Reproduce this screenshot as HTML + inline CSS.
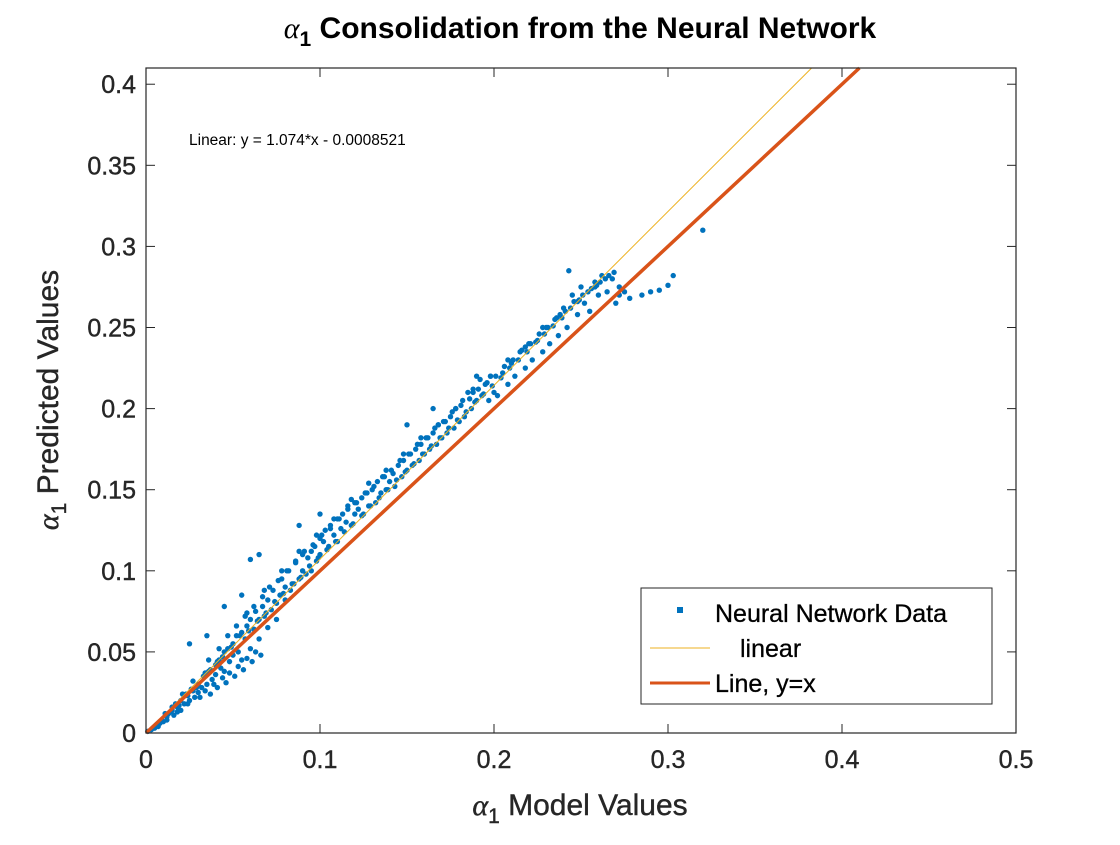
<!DOCTYPE html>
<html><head><meta charset="utf-8"><style>
body{margin:0;background:#fff;}
svg text{font-family:"Liberation Sans",Arial,sans-serif;}
</style></head><body>
<svg id="chart" width="1120" height="840" xmlns="http://www.w3.org/2000/svg">
<rect width="1120" height="840" fill="#fff"/>
<g id="marks"></g>
<rect x="146" y="68" width="870" height="665" fill="none" stroke="#262626" stroke-width="1.2"/>
<g id="axes"></g>
<text x="580" y="38" text-anchor="middle" font-size="30" font-weight="bold" fill="#000"><tspan font-family="Liberation Serif" font-style="italic" font-weight="normal">α</tspan><tspan font-size="21" dy="8">1</tspan><tspan dy="-8"> Consolidation from the Neural Network</tspan></text>
<text x="189" y="145" font-size="15.5" fill="#000">Linear:  y = 1.074*x - 0.0008521</text>
<text x="580" y="815" text-anchor="middle" font-size="30" fill="#262626" stroke="#262626" stroke-width="0.4"><tspan font-family="Liberation Serif" font-style="italic">α</tspan><tspan font-size="21" dy="8">1</tspan><tspan dy="-8"> Model Values</tspan></text>
<text transform="translate(58,400) rotate(-90)" text-anchor="middle" font-size="30" fill="#262626" stroke="#262626" stroke-width="0.4"><tspan font-family="Liberation Serif" font-style="italic">α</tspan><tspan font-size="21" dy="8">1</tspan><tspan dy="-8"> Predicted Values</tspan></text>
<g>
<rect x="641" y="588" width="351" height="116" fill="#fff" stroke="#262626" stroke-width="1"/>
<rect x="677" y="607" width="6" height="6" fill="#0072BD"/>
<text x="715" y="622" font-size="25" fill="#000" stroke="#000" stroke-width="0.3">Neural Network Data</text>
<line x1="650" y1="648" x2="710" y2="648" stroke="#EDB120" stroke-width="1"/>
<text x="740" y="657" font-size="25" fill="#000" stroke="#000" stroke-width="0.3">linear</text>
<line x1="650" y1="683" x2="710" y2="683" stroke="#D95319" stroke-width="3"/>
<text x="715" y="692" font-size="25" fill="#000" stroke="#000" stroke-width="0.3">Line, y=x</text>
</g>
</svg>
<script>
const xTicks=[0,0.1,0.2,0.3,0.4,0.5];
const yTicks=[0,0.05,0.1,0.15,0.2,0.25,0.3,0.35,0.4];
const xTickLabels=["0","0.1","0.2","0.3","0.4","0.5"];
const yTickLabels=["0","0.05","0.1","0.15","0.2","0.25","0.3","0.35","0.4"];
const dataX=[0.001,0.003,0.005,0.007,0.008,0.01,0.012,0.013,0.015,0.016,0.018,0.02,0.02,0.022,0.024,0.025,0.027,0.028,0.03,0.03,0.032,0.033,0.035,0.036,0.038,0.04,0.04,0.042,0.043,0.045,0.045,0.047,0.048,0.05,0.05,0.052,0.053,0.055,0.055,0.057,0.058,0.06,0.06,0.062,0.063,0.065,0.065,0.067,0.068,0.07,0.07,0.072,0.073,0.075,0.075,0.077,0.078,0.08,0.08,0.082,0.083,0.085,0.086,0.088,0.09,0.09,0.092,0.093,0.095,0.095,0.097,0.098,0.1,0.1,0.102,0.103,0.105,0.106,0.108,0.11,0.11,0.112,0.113,0.115,0.116,0.118,0.12,0.12,0.122,0.124,0.125,0.127,0.128,0.13,0.132,0.133,0.135,0.137,0.138,0.14,0.142,0.143,0.145,0.147,0.148,0.15,0.152,0.153,0.155,0.157,0.158,0.16,0.162,0.163,0.165,0.167,0.168,0.17,0.172,0.173,0.175,0.177,0.178,0.18,0.182,0.183,0.185,0.187,0.188,0.19,0.192,0.193,0.195,0.197,0.198,0.2,0.202,0.205,0.208,0.21,0.212,0.215,0.218,0.22,0.222,0.225,0.228,0.23,0.232,0.235,0.237,0.24,0.242,0.243,0.245,0.248,0.25,0.252,0.255,0.258,0.26,0.262,0.265,0.268,0.27,0.272,0.275,0.285,0.29,0.295,0.3,0.303,0.32,0.025,0.035,0.045,0.055,0.06,0.065,0.088,0.1,0.15,0.165,0.19,
0.004,0.006,0.009,0.011,0.014,0.017,0.019,0.023,0.026,0.029,0.034,0.037,0.041,0.044,0.049,0.054,0.059,0.064,0.069,0.074,0.079,0.084,0.089,0.094,0.099,0.104,0.109,0.114,0.119,0.124,0.129,0.134,0.139,0.144,0.149,0.154,0.159,0.164,0.169,0.174,0.179,0.184,0.189,0.194,0.199,0.204,0.209,0.214,0.219,0.224,0.229,0.234,0.239,0.244,0.249,0.254,0.259,0.264,0.269,
0.031,0.034,0.037,0.039,0.041,0.044,0.046,0.048,0.051,0.053,0.056,0.058,0.061,0.063,0.066,0.036,0.042,0.047,0.052,0.057,0.062,0.067,0.071,0.076,0.081,0.086,0.091,0.096,0.101,0.106,0.111,0.116,0.121,0.126,0.131,0.136,0.141,0.146,0.151,0.156,0.161,0.166,0.171,0.176,0.181,0.186,0.191,0.196,0.201,0.206,0.211,0.216,0.221,0.226,0.231,0.236,0.241,0.246,0.251,0.256,0.261,0.266,0.058,0.068,0.078,0.088,0.098,0.108,0.118,0.128,0.138,0.148,0.158,0.168,0.178,0.188,0.198,0.208,0.218,0.228,0.238,0.248,0.258,0.272,0.278,0.012,0.018,0.024,0.015,0.021,0.027];
const dataY=[0.001,0.002,0.003,0.004,0.006,0.007,0.01,0.012,0.014,0.011,0.016,0.02,0.014,0.018,0.023,0.02,0.026,0.022,0.03,0.025,0.028,0.035,0.03,0.038,0.033,0.042,0.036,0.045,0.04,0.05,0.038,0.052,0.044,0.055,0.048,0.06,0.05,0.062,0.045,0.058,0.066,0.052,0.07,0.064,0.075,0.07,0.058,0.078,0.072,0.065,0.082,0.076,0.088,0.08,0.07,0.085,0.095,0.082,0.09,0.1,0.088,0.092,0.105,0.095,0.1,0.11,0.098,0.108,0.112,0.1,0.115,0.106,0.11,0.12,0.118,0.125,0.115,0.128,0.122,0.118,0.132,0.126,0.135,0.13,0.14,0.128,0.135,0.142,0.138,0.145,0.135,0.148,0.14,0.15,0.142,0.155,0.148,0.158,0.15,0.155,0.16,0.152,0.165,0.158,0.168,0.162,0.172,0.165,0.175,0.168,0.178,0.172,0.182,0.175,0.185,0.178,0.19,0.182,0.192,0.185,0.195,0.188,0.2,0.192,0.205,0.195,0.21,0.2,0.212,0.205,0.218,0.208,0.215,0.205,0.22,0.21,0.208,0.222,0.215,0.228,0.22,0.235,0.225,0.24,0.23,0.242,0.235,0.25,0.24,0.255,0.245,0.262,0.25,0.285,0.27,0.258,0.275,0.265,0.26,0.278,0.27,0.282,0.272,0.28,0.265,0.27,0.272,0.27,0.272,0.273,0.276,0.282,0.31,0.055,0.06,0.078,0.085,0.107,0.11,0.128,0.135,0.19,0.2,0.22,
0.003,0.005,0.008,0.012,0.013,0.018,0.017,0.024,0.027,0.028,0.037,0.039,0.044,0.047,0.053,0.06,0.063,0.069,0.074,0.081,0.086,0.092,0.096,0.103,0.108,0.113,0.118,0.124,0.129,0.134,0.14,0.145,0.15,0.156,0.161,0.166,0.172,0.177,0.182,0.188,0.193,0.198,0.204,0.209,0.214,0.219,0.225,0.23,0.235,0.241,0.246,0.251,0.256,0.262,0.267,0.272,0.276,0.28,0.284,
0.022,0.026,0.024,0.03,0.028,0.034,0.031,0.037,0.035,0.041,0.039,0.046,0.044,0.05,0.048,0.045,0.052,0.06,0.066,0.072,0.078,0.084,0.09,0.094,0.1,0.106,0.112,0.116,0.122,0.126,0.132,0.138,0.142,0.148,0.152,0.158,0.162,0.168,0.172,0.178,0.182,0.188,0.192,0.198,0.202,0.206,0.212,0.216,0.22,0.226,0.23,0.236,0.24,0.246,0.25,0.256,0.26,0.266,0.27,0.274,0.278,0.282,0.074,0.088,0.1,0.112,0.122,0.132,0.144,0.154,0.162,0.172,0.182,0.19,0.2,0.21,0.22,0.23,0.238,0.25,0.258,0.266,0.275,0.275,0.268,0.008,0.013,0.018,0.016,0.024,0.032];
const fitSlope=1.074, fitIntercept=-0.0008521;
const xMax=0.5, yMax=0.41;
const L=146,R=1016,T=68,B=733;
const sx=v=>L+(v/xMax)*(R-L);
const sy=v=>B-(v/yMax)*(B-T);
const NS="http://www.w3.org/2000/svg";
const marks=document.getElementById('marks');
const axes=document.getElementById('axes');
function mk(tag,attrs,parent){const e=document.createElementNS(NS,tag);for(const k in attrs)e.setAttribute(k,attrs[k]);parent.appendChild(e);return e;}
const n=Math.min(dataX.length,dataY.length);
for(let i=0;i<n;i++){
 const c=mk('circle',{cx:sx(dataX[i]),cy:sy(dataY[i]),r:2.7,fill:'#0072BD'},marks);
 
 
}
const fx1=(yMax-fitIntercept)/fitSlope;
const fl=mk('line',{x1:sx(0),y1:sy(Math.max(0,fitIntercept)),x2:sx(fx1),y2:sy(yMax),stroke:'#EDB120','stroke-width':1},marks);


const il=mk('line',{x1:sx(0),y1:sy(0),x2:sx(yMax),y2:sy(yMax),stroke:'#D95319','stroke-width':3.5},marks);


xTicks.forEach((t,i)=>{
 const x=sx(t);
 mk('line',{x1:x,y1:B,x2:x,y2:B-9,stroke:'#262626'},axes);
 mk('line',{x1:x,y1:T,x2:x,y2:T+9,stroke:'#262626'},axes);
 const tx=mk('text',{x:x,y:B+35,'text-anchor':'middle','font-size':25,fill:'#262626',stroke:'#262626','stroke-width':0.4},axes);
 tx.textContent=xTickLabels[i];
 
 
});
yTicks.forEach((t,i)=>{
 const y=sy(t);
 mk('line',{x1:L,y1:y,x2:L+9,y2:y,stroke:'#262626'},axes);
 mk('line',{x1:R,y1:y,x2:R-9,y2:y,stroke:'#262626'},axes);
 const tx=mk('text',{x:L-10,y:y+9,'text-anchor':'end','font-size':25,fill:'#262626',stroke:'#262626','stroke-width':0.4},axes);
 tx.textContent=yTickLabels[i];
 
 
});
</script>
</body></html>
